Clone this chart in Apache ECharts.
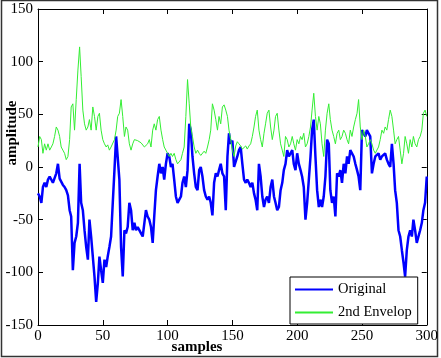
<!DOCTYPE html>
<html>
<head>
<meta charset="utf-8">
<script src="https://cdn.jsdelivr.net/npm/echarts@6/dist/echarts.min.js"></script>
<style>
html,body{margin:0;padding:0;background:#fff;}
#chart{width:441px;height:358px;}
</style>
</head>
<body>
<div id="chart"></div>
<script>
// sample positions where values were read
var sampleIdx = [
0,1.3,2.6,3.8,5.1,6.4,7.7,9.0,10.3,11.5,12.8,14.1,15.4,16.7,17.9,19.2,20.5,21.8,23.1,24.4,
25.6,26.9,28.2,29.5,30.8,32.1,33.3,34.6,35.9,37.2,38.5,39.7,41.0,42.3,43.6,44.9,46.2,47.4,48.7,50.0,
51.3,52.6,53.8,55.1,56.4,57.7,59.0,60.3,61.5,62.8,64.1,65.4,66.7,67.9,69.2,70.5,71.8,73.1,74.4,75.6,
76.9,78.2,79.5,80.8,82.1,83.3,84.6,85.9,87.2,88.5,89.7,91.0,92.3,93.6,94.9,96.2,97.4,98.7,100.0,101.3,
102.6,103.8,105.1,106.4,107.7,109.0,110.3,111.5,112.8,114.1,115.4,116.7,117.9,119.2,120.5,121.8,123.1,124.4,125.6,126.9,
128.2,129.5,130.8,132.1,133.3,134.6,135.9,137.2,138.5,139.7,141.0,142.3,143.6,144.9,146.2,147.4,148.7,150.0,151.3,152.6,
153.8,155.1,156.4,157.7,159.0,160.3,161.5,162.8,164.1,165.4,166.7,167.9,169.2,170.5,171.8,173.1,174.4,175.6,176.9,178.2,
179.5,180.8,182.1,183.3,184.6,185.9,187.2,188.5,189.7,191.0,192.3,193.6,194.9,196.2,197.4,198.7,200.0,201.3,202.6,203.8,
205.1,206.4,207.7,209.0,210.3,211.5,212.8,214.1,215.4,216.7,217.9,219.2,220.5,221.8,223.1,224.4,225.6,226.9,228.2,229.5,
230.8,232.1,233.3,234.6,235.9,237.2,238.5,239.7,241.0,242.3,243.6,244.9,246.2,247.4,248.7,250.0,251.3,252.6,253.8,255.1,
256.4,257.7,259.0,260.3,261.5,262.8,264.1,265.4,266.7,267.9,269.2,270.5,271.8,273.1,274.4,275.6,276.9,278.2,279.5,280.8,
282.1,283.3,284.6,285.9,287.2,288.5,289.7,291.0,292.3,293.6,294.9,296.2,297.4,298.7,300.0
];

var originalVals = [
-25,-28,-34,-19,-15,-19,-12,-9,-8,-15,-14,-6,3,-11,-12,-17,-19,-22,-27,-41,
-47,-98,-72,-66,-53,3,-34,-41,-60,-76,-88,-50,-66,-85,-104,-128,-110,-85,-98,-110,
-88,-95,-85,-76,-66,-34,-3,29,30,-12,-76,-104,-60,-63,-57,-34,-41,-60,-53,-60,
-57,-60,-63,-66,-53,-41,-47,-50,-57,-72,-47,-22,-9,3,-6,0,-12,3,13,10,
0,3,-12,-28,-34,-31,-28,-15,-9,-19,-3,41,35,10,-6,-19,-22,-3,0,-9,
-22,-28,-31,-28,-34,-46,-15,-6,-9,-3,3,-6,-9,-41,10,32,22,25,0,
0,10,16,19,3,-12,-15,-12,-15,-19,-15,-25,-31,-41,3,-9,-28,-38,-31,-28,
-34,-19,-12,-28,-34,-41,-38,-22,-15,-3,3,16,10,10,16,3,-3,13,3,-3,
-9,-19,-50,-34,-12,10,35,45,10,-22,-38,-31,-38,-28,-9,26,22,-22,-34,
-28,-47,-6,-9,-3,-15,3,-6,10,3,16,13,10,3,-3,-9,-22,35,35,29,
35,32,29,-6,3,10,10,13,7,10,10,13,7,3,0,22,3,-22,-34,-60,
-66,-79,-91,-104,-79,-66,-60,-66,-50,-60,-72,-66,-60,-53,-41,-34,-9
];

var envelopVals = [
19,29,26,13,22,16,22,16,19,22,29,38,35,29,19,16,13,7,10,26,
57,60,35,64,92,114,86,54,41,35,38,45,35,57,48,35,48,51,35,26,
22,19,21,16,19,18,26,35,48,51,64,48,29,38,35,22,16,22,26,27,
25,24,23,22,19,18,22,26,19,35,41,35,45,48,35,26,19,16,13,10,
13,10,13,7,3,3,7,13,19,48,83,60,38,29,19,13,16,13,11,10,
15,13,19,26,35,60,54,45,35,48,41,57,59,54,48,35,26,16,10,
20,24,22,20,17,16,20,17,20,22,29,38,48,54,35,26,19,32,41,51,
54,38,26,35,48,51,35,22,16,10,29,26,19,22,29,22,16,26,22,29,
26,32,19,22,29,38,54,70,48,35,48,41,22,10,35,51,60,45,35,
29,22,32,35,26,29,35,32,26,22,35,29,38,45,51,64,38,26,35,29,
19,22,26,22,16,13,16,19,26,35,32,38,35,45,54,48,35,22,26,29,
16,3,13,29,22,13,26,19,29,22,19,26,29,35,51,54,48
];

var seriesNames = ['Original', '2nd Envelop'];
var xTicks = {min: 0, max: 300, interval: 50};
var yTicks = {min: -150, max: 150, interval: 50};
var xTitle = 'samples';
var yTitle = 'amplitude';

function pairs(xs, ys) {
  var out = [];
  for (var i = 0; i < ys.length; i++) out.push([xs[i], ys[i]]);
  return out;
}

var FONT = "'Liberation Serif', 'Times New Roman', serif";
var chart = echarts.init(document.getElementById('chart'), null, {renderer: 'canvas'});

function axisCommon(showLabels) {
  return {
    axisLine: {show: true, onZero: false, lineStyle: {color: '#000', width: 1}},
    axisTick: {show: true, inside: true, length: 5, lineStyle: {color: '#000', width: 1}},
    axisLabel: {show: showLabels, color: '#000', fontFamily: FONT, fontSize: 15},
    splitLine: {show: false}
  };
}

var xb = Object.assign({type: 'value', position: 'bottom'}, xTicks, axisCommon(true));
xb.axisLabel.margin = 4;
var xt = Object.assign({type: 'value', position: 'top'}, xTicks, axisCommon(false));
var yl = Object.assign({type: 'value', position: 'left'}, yTicks, axisCommon(true));
yl.axisLabel.margin = 5;
var yr = Object.assign({type: 'value', position: 'right'}, yTicks, axisCommon(false));

chart.setOption({
  animation: false,
  backgroundColor: '#fff',
  grid: {left: 38, top: 9, right: 14, bottom: 33, containLabel: false},
  xAxis: [xb, xt],
  yAxis: [yl, yr],
  legend: {
    left: 290, top: 277,
    orient: 'vertical',
    backgroundColor: '#fff',
    borderColor: '#000', borderWidth: 1, borderRadius: 0,
    padding: [5, 6, 4, 4],
    itemWidth: 38, itemHeight: 14, itemGap: 8,
    itemStyle: {opacity: 0},
    textStyle: {fontFamily: FONT, fontSize: 14.5, color: '#000'},
    data: seriesNames
  },
  series: [
    {
      name: seriesNames[0], type: 'line', xAxisIndex: 0, yAxisIndex: 0,
      data: pairs(sampleIdx, originalVals),
      symbol: 'none', showSymbol: false,
      lineStyle: {color: '#0000ff', width: 2.5},
      itemStyle: {color: '#0000ff'}
    },
    {
      name: seriesNames[1], type: 'line', xAxisIndex: 0, yAxisIndex: 0,
      data: pairs(sampleIdx, envelopVals),
      symbol: 'none', showSymbol: false,
      lineStyle: {color: '#33ee33', width: 1},
      itemStyle: {color: '#33ee33'}
    }
  ],
  graphic: [
    {type: 'rect', shape: {x: 1.5, y: 0.5, width: 436, height: 356}, style: {fill: 'none', stroke: '#333', lineWidth: 1.5}, silent: true},
    {type: 'text', x: 197, y: 347, style: {text: xTitle, font: 'bold 15px ' + FONT, fill: '#000', textAlign: 'center', textVerticalAlign: 'middle'}},
    {type: 'text', x: 12, y: 133, rotation: Math.PI / 2, style: {text: yTitle, font: 'bold 15px ' + FONT, fill: '#000', textAlign: 'center', textVerticalAlign: 'middle'}}
  ]
});
</script>
</body>
</html>
